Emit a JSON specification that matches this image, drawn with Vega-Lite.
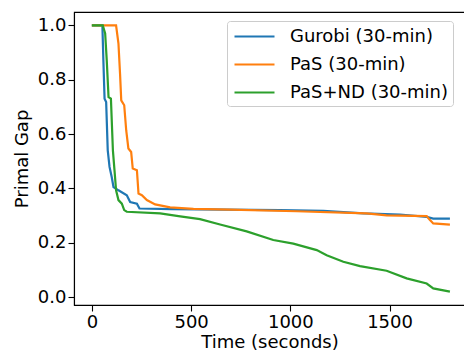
{
  "$schema": "https://vega.github.io/schema/vega-lite/v6.json",
  "autosize": {"type": "none"},
  "padding": {"left": 74, "top": 12, "right": 0, "bottom": 47},
  "width": 391,
  "height": 293,
  "background": "white",
  "config": {
    "font": "DejaVu Sans",
    "view": {"stroke": "black", "strokeWidth": 1.1},
    "axis": {
      "domainColor": "black",
      "domainWidth": 1.1,
      "tickColor": "black",
      "tickWidth": 1.1,
      "tickSize": 6,
      "labelFontSize": 18,
      "labelColor": "black",
      "titleFontSize": 18,
      "titleColor": "black",
      "titleFontWeight": "normal",
      "grid": false,
      "labelPadding": 2
    }
  },
  "data": {
    "values": [
      {"method": "Gurobi (30-min)", "t": 0, "gap": 1.0},
      {"method": "Gurobi (30-min)", "t": 53, "gap": 1.0},
      {"method": "Gurobi (30-min)", "t": 58, "gap": 0.871},
      {"method": "Gurobi (30-min)", "t": 64, "gap": 0.73},
      {"method": "Gurobi (30-min)", "t": 72, "gap": 0.718},
      {"method": "Gurobi (30-min)", "t": 80, "gap": 0.54},
      {"method": "Gurobi (30-min)", "t": 89, "gap": 0.479},
      {"method": "Gurobi (30-min)", "t": 100, "gap": 0.442},
      {"method": "Gurobi (30-min)", "t": 109, "gap": 0.405},
      {"method": "Gurobi (30-min)", "t": 134, "gap": 0.393},
      {"method": "Gurobi (30-min)", "t": 176, "gap": 0.375},
      {"method": "Gurobi (30-min)", "t": 193, "gap": 0.35},
      {"method": "Gurobi (30-min)", "t": 227, "gap": 0.344},
      {"method": "Gurobi (30-min)", "t": 240, "gap": 0.326},
      {"method": "Gurobi (30-min)", "t": 400, "gap": 0.324},
      {"method": "Gurobi (30-min)", "t": 947, "gap": 0.32},
      {"method": "Gurobi (30-min)", "t": 1166, "gap": 0.317},
      {"method": "Gurobi (30-min)", "t": 1368, "gap": 0.308},
      {"method": "Gurobi (30-min)", "t": 1552, "gap": 0.304},
      {"method": "Gurobi (30-min)", "t": 1687, "gap": 0.295},
      {"method": "Gurobi (30-min)", "t": 1720, "gap": 0.289},
      {"method": "Gurobi (30-min)", "t": 1804, "gap": 0.289},
      {"method": "PaS (30-min)", "t": 0, "gap": 1.0},
      {"method": "PaS (30-min)", "t": 122, "gap": 1.0},
      {"method": "PaS (30-min)", "t": 134, "gap": 0.933},
      {"method": "PaS (30-min)", "t": 142, "gap": 0.822},
      {"method": "PaS (30-min)", "t": 148, "gap": 0.724},
      {"method": "PaS (30-min)", "t": 163, "gap": 0.706},
      {"method": "PaS (30-min)", "t": 173, "gap": 0.614},
      {"method": "PaS (30-min)", "t": 184, "gap": 0.547},
      {"method": "PaS (30-min)", "t": 198, "gap": 0.534},
      {"method": "PaS (30-min)", "t": 206, "gap": 0.473},
      {"method": "PaS (30-min)", "t": 227, "gap": 0.467},
      {"method": "PaS (30-min)", "t": 235, "gap": 0.381},
      {"method": "PaS (30-min)", "t": 252, "gap": 0.375},
      {"method": "PaS (30-min)", "t": 277, "gap": 0.357},
      {"method": "PaS (30-min)", "t": 319, "gap": 0.341},
      {"method": "PaS (30-min)", "t": 394, "gap": 0.33},
      {"method": "PaS (30-min)", "t": 512, "gap": 0.325},
      {"method": "PaS (30-min)", "t": 696, "gap": 0.322},
      {"method": "PaS (30-min)", "t": 1031, "gap": 0.316},
      {"method": "PaS (30-min)", "t": 1384, "gap": 0.308},
      {"method": "PaS (30-min)", "t": 1485, "gap": 0.301},
      {"method": "PaS (30-min)", "t": 1687, "gap": 0.298},
      {"method": "PaS (30-min)", "t": 1700, "gap": 0.286},
      {"method": "PaS (30-min)", "t": 1720, "gap": 0.271},
      {"method": "PaS (30-min)", "t": 1804, "gap": 0.267},
      {"method": "PaS+ND (30-min)", "t": 0, "gap": 1.0},
      {"method": "PaS+ND (30-min)", "t": 55, "gap": 1.0},
      {"method": "PaS+ND (30-min)", "t": 67, "gap": 0.97},
      {"method": "PaS+ND (30-min)", "t": 75, "gap": 0.871},
      {"method": "PaS+ND (30-min)", "t": 84, "gap": 0.736},
      {"method": "PaS+ND (30-min)", "t": 96, "gap": 0.73},
      {"method": "PaS+ND (30-min)", "t": 106, "gap": 0.54},
      {"method": "PaS+ND (30-min)", "t": 114, "gap": 0.467},
      {"method": "PaS+ND (30-min)", "t": 122, "gap": 0.393},
      {"method": "PaS+ND (30-min)", "t": 134, "gap": 0.357},
      {"method": "PaS+ND (30-min)", "t": 151, "gap": 0.344},
      {"method": "PaS+ND (30-min)", "t": 163, "gap": 0.32},
      {"method": "PaS+ND (30-min)", "t": 176, "gap": 0.314},
      {"method": "PaS+ND (30-min)", "t": 344, "gap": 0.308},
      {"method": "PaS+ND (30-min)", "t": 445, "gap": 0.297},
      {"method": "PaS+ND (30-min)", "t": 545, "gap": 0.287},
      {"method": "PaS+ND (30-min)", "t": 646, "gap": 0.267},
      {"method": "PaS+ND (30-min)", "t": 780, "gap": 0.242},
      {"method": "PaS+ND (30-min)", "t": 914, "gap": 0.21},
      {"method": "PaS+ND (30-min)", "t": 1015, "gap": 0.197},
      {"method": "PaS+ND (30-min)", "t": 1133, "gap": 0.173},
      {"method": "PaS+ND (30-min)", "t": 1183, "gap": 0.154},
      {"method": "PaS+ND (30-min)", "t": 1267, "gap": 0.13},
      {"method": "PaS+ND (30-min)", "t": 1351, "gap": 0.114},
      {"method": "PaS+ND (30-min)", "t": 1485, "gap": 0.097},
      {"method": "PaS+ND (30-min)", "t": 1586, "gap": 0.069},
      {"method": "PaS+ND (30-min)", "t": 1687, "gap": 0.05},
      {"method": "PaS+ND (30-min)", "t": 1720, "gap": 0.032},
      {"method": "PaS+ND (30-min)", "t": 1804, "gap": 0.02}
    ]
  },
  "mark": {"type": "line", "strokeWidth": 2.2, "interpolate": "linear", "clip": true},
  "encoding": {
    "x": {
      "field": "t", "type": "quantitative",
      "scale": {"domain": [-90, 1880], "nice": false, "zero": false},
      "axis": {"values": [0, 500, 1000, 1500], "title": "Time (seconds)", "titlePadding": 2, "format": "d"}
    },
    "y": {
      "field": "gap", "type": "quantitative",
      "scale": {"domain": [-0.029, 1.049], "nice": false, "zero": false},
      "axis": {"values": [0, 0.2, 0.4, 0.6, 0.8, 1.0], "format": ".1f", "title": "Primal Gap", "titlePadding": 6}
    },
    "color": {
      "field": "method", "type": "nominal",
      "scale": {
        "domain": ["Gurobi (30-min)", "PaS (30-min)", "PaS+ND (30-min)"],
        "range": ["#1f77b4", "#ff7f0e", "#2ca02c"]
      },
      "legend": {
        "title": null,
        "orient": "none",
        "legendX": 153,
        "legendY": 9,
        "symbolType": "M-2,0H2",
        "symbolSize": 400,
        "symbolStrokeWidth": 2.2,
        "symbolOffset": 12,
        "labelFontSize": 18,
        "labelColor": "black",
        "labelOffset": 24,
        "rowPadding": 7,
        "padding": 4,
        "fillColor": "white",
        "strokeColor": "#cccccc",
        "cornerRadius": 3
      }
    }
  }
}
